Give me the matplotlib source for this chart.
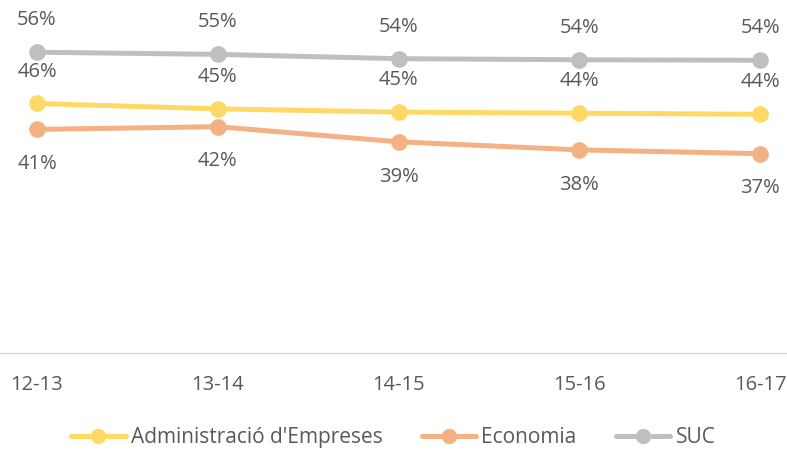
import matplotlib.pyplot as plt

# Data
years = ["12-13", "13-14", "14-15", "15-16", "16-17"]
admin = [46.2, 45.2, 44.6, 44.4, 44.2]
economia = [41.4, 41.9, 39.1, 37.6, 36.9]
suc = [55.7, 55.3, 54.5, 54.3, 54.2]

plt.rcParams["font.family"] = ["Open Sans", "DejaVu Sans"]
text_color = "#595959"

fig = plt.figure(figsize=(7.87, 4.51), dpi=100)
ax = fig.add_axes([0, 0.2177, 1, 0.718])

x = list(range(len(years)))
series = [
    ("Administració d'Empreses", admin, "#FFD966", 23),
    ("Economia", economia, "#F4B183", -25),
    ("SUC", suc, "#BFBFBF", 23),
]
for name, vals, color, off in series:
    ax.plot(x, vals, color=color, lw=3.6, marker="o", markersize=11,
            label=name, solid_capstyle="round")
    for xi, v in zip(x, vals):
        ax.annotate(f"{round(v):.0f}%", (xi, v), xytext=(0, off),
                    textcoords="offset points", ha="center", va="center",
                    fontsize=14.5, color=text_color)

ax.set_xlim(-0.2047, 4.149)
ax.set_ylim(0, 60)
ax.set_yticks([])
ax.set_xticks(x)
ax.set_xticklabels(years, fontsize=14.5, color=text_color)
ax.tick_params(axis="x", length=0, pad=16)
for side in ["top", "right", "left"]:
    ax.spines[side].set_visible(False)
ax.spines["bottom"].set_color("#D9D9D9")
ax.spines["bottom"].set_linewidth(1)

leg = fig.legend(loc="center", bbox_to_anchor=(0.5, 0.03), ncol=3,
                 frameon=False, fontsize=15, handlelength=2.6,
                 handletextpad=0.25, columnspacing=1.9)
for t in leg.get_texts():
    t.set_color(text_color)
for h in leg.legend_handles:
    h.set_markersize(10)

fig.savefig("out.png", dpi=100)
